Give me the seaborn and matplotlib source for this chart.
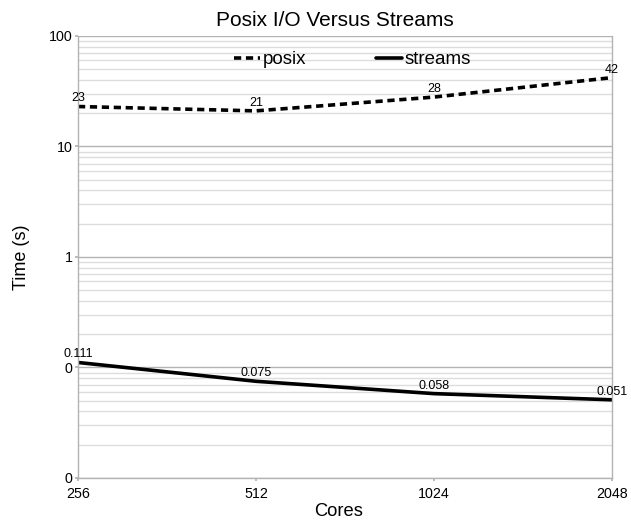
import matplotlib
matplotlib.use("Agg")
import matplotlib.pyplot as plt
import matplotlib.ticker as mticker
import seaborn as sns
import pandas as pd

cores = ["256", "512", "1024", "2048"]
posix = [23, 21, 28, 42]
streams = [0.111, 0.075, 0.058, 0.051]
posix_labels = ["23", "21", "28", "42"]
streams_labels = ["0.111", "0.075", "0.058", "0.051"]

sns.set_theme(style="white")
plt.rcParams['font.family'] = ['Liberation Sans', 'DejaVu Sans']
plt.rcParams['text.color'] = 'black'
plt.rcParams['axes.labelcolor'] = 'black'
plt.rcParams['axes.titlecolor'] = 'black'
plt.rcParams['xtick.labelcolor'] = 'black'
plt.rcParams['ytick.labelcolor'] = 'black'

df = pd.DataFrame({
    "Cores": cores * 2,
    "Time": posix + streams,
    "Series": ["posix"] * 4 + ["streams"] * 4,
})

fig = plt.figure(figsize=(6.31, 5.2), dpi=100)
ax = fig.add_axes([0.1236, 0.0808, 0.8463, 0.85])

sns.lineplot(data=df, x="Cores", y="Time", hue="Series", style="Series",
             palette={"posix": "black", "streams": "black"},
             dashes={"posix": (2, 1.3), "streams": ""},
             linewidth=2.6, ax=ax, legend=True)

ax.set_yscale("log")
ax.set_ylim(0.01, 100)
ax.set_xlim(0, 3)

ax.yaxis.set_major_locator(mticker.LogLocator(base=10, numticks=10))
ax.yaxis.set_minor_locator(mticker.LogLocator(base=10, subs=range(2, 10), numticks=20))
ax.yaxis.set_minor_formatter(mticker.NullFormatter())
ax.yaxis.set_major_formatter(mticker.FuncFormatter(lambda v, p: f"{v:.0f}"))

ax.grid(True, which="major", axis="y", color="#b3b3b3", linewidth=1.0)
ax.grid(True, which="minor", axis="y", color="#dddddd", linewidth=1.0)
ax.set_axisbelow(True)

for side in ["left", "bottom", "right"]:
    ax.spines[side].set_color("#b3b3b3")
    ax.spines[side].set_linewidth(1.0)
ax.spines["top"].set_visible(False)

ax.tick_params(axis="y", which="major", left=True, length=2.2, color="#b3b3b3",
               labelsize=10.3, pad=1.5, labelcolor="black")
ax.tick_params(axis="y", which="minor", left=False)
ax.tick_params(axis="x", bottom=True, length=2.2, color="#b3b3b3",
               labelsize=10.3, pad=4.5, labelcolor="black")

for i, (v, lab) in enumerate(zip(posix, posix_labels)):
    ax.annotate(lab, (i, v), xytext=(0, 1.5), textcoords="offset points",
                ha="center", va="bottom", fontsize=9, color="black",
                annotation_clip=False)
for i, (v, lab) in enumerate(zip(streams, streams_labels)):
    ax.annotate(lab, (i, v), xytext=(0, 1.5), textcoords="offset points",
                ha="center", va="bottom", fontsize=9, color="black",
                annotation_clip=False)

ax.set_xlabel("Cores", fontsize=13.2, labelpad=1.0, x=0.488)
ax.set_ylabel("Time (s)", fontsize=13, labelpad=13.5)
ax.set_title("Posix I/O Versus Streams", fontsize=15, pad=7, x=0.481)

leg = ax.legend(loc="center", bbox_to_anchor=(0.514, 0.946), ncol=2, frameon=False,
                fontsize=13.5, handlelength=1.4, handletextpad=0.16, columnspacing=3.7,
                borderpad=0, borderaxespad=0)
for h in leg.get_lines():
    h.set_linewidth(2.6)

fig.savefig("out.png", dpi=100)
